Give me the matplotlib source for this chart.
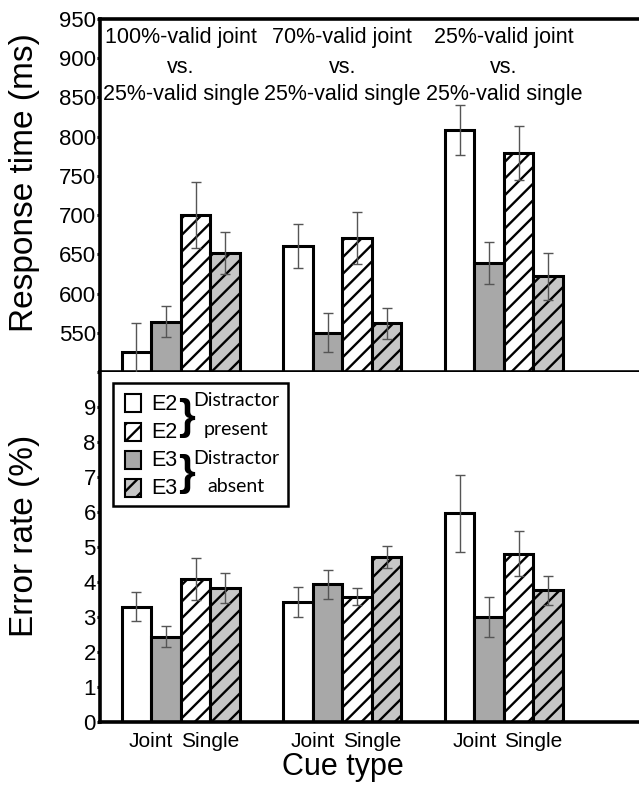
import matplotlib
matplotlib.use("Agg")
import matplotlib.pyplot as plt
from matplotlib.patches import Rectangle
import numpy as np

plt.rcParams['font.family'] = ['Liberation Sans', 'DejaVu Sans']
plt.rcParams['hatch.linewidth'] = 1.7

# ---- data ----
groups = [("100%-valid joint", "vs.", "25%-valid single"),
          ("70%-valid joint", "vs.", "25%-valid single"),
          ("25%-valid joint", "vs.", "25%-valid single")]
series = ["E2 joint", "E3 joint", "E2 single", "E3 single"]

rt_means = {
    "E2 joint":  [526, 661, 809],
    "E3 joint":  [564, 550, 639],
    "E2 single": [700, 671, 779],
    "E3 single": [652, 562, 622],
}
rt_err = {
    "E2 joint":  [36, 28, 32],
    "E3 joint":  [20, 25, 27],
    "E2 single": [42, 33, 34],
    "E3 single": [27, 20, 30],
}
er_means = {
    "E2 joint":  [3.30, 3.43, 5.96],
    "E3 joint":  [2.43, 3.93, 3.00],
    "E2 single": [4.08, 3.58, 4.81],
    "E3 single": [3.83, 4.72, 3.76],
}
er_err = {
    "E2 joint":  [0.42, 0.43, 1.10],
    "E3 joint":  [0.30, 0.42, 0.57],
    "E2 single": [0.60, 0.24, 0.65],
    "E3 single": [0.43, 0.32, 0.41],
}
cue_labels = ["Joint", "Single"]
rt_ticks = [500, 550, 600, 650, 700, 750, 800, 850, 900, 950]
er_ticks = list(range(0, 10))

# ---- styles ----
styles = {
    "E2 joint":  dict(color="white", hatch=None),
    "E3 joint":  dict(color="#a8a8a8", hatch=None),
    "E2 single": dict(color="white", hatch="//"),
    "E3 single": dict(color="#c6c6c6", hatch="//"),
}
W, H = 639, 785
fig = plt.figure(figsize=(W / 100, H / 100), dpi=100)
left = 100 / W
ax1 = fig.add_axes([left, 1 - 372 / H, 1 - left, (372 - 19) / H])
ax2 = fig.add_axes([left, 1 - 722 / H, 1 - left, (722 - 372) / H])

x = np.arange(len(groups))
w = 0.183
offsets = [-1.5 * w, -0.5 * w, 0.5 * w, 1.5 * w]


def draw(ax, means, errs):
    for s, off in zip(series, offsets):
        st = styles[s]
        ax.bar(x + off, means[s], width=w, color=st["color"], hatch=st["hatch"],
               edgecolor="black", linewidth=2.2, zorder=2)
        ax.errorbar(x + off, means[s], yerr=errs[s], fmt="none", ecolor="#555555",
                    elinewidth=1.0, capsize=3.5, capthick=1.0, zorder=3)
    ax.set_xlim(-0.50, 2.836)
    for sp in ax.spines.values():
        sp.set_linewidth(2.6)
    ax.spines["right"].set_visible(False)
    ax.tick_params(axis="y", direction="out", length=2.5, width=2.2, labelsize=16, pad=0.5)
    ax.tick_params(axis="x", length=0)


draw(ax1, rt_means, rt_err)
ax1.set_ylim(500, 950)
ax1.set_yticks(rt_ticks)
ax1.set_yticklabels([""] + [str(t) for t in rt_ticks[1:]])
ax1.set_xticks([])
# group titles, baselines at pixel rows 43, 73, 100
for xi, lines in zip(x, groups):
    for line, py in zip(lines, (43, 73, 100)):
        ax1.text(xi, 1 - (py - 19) / 353, line, transform=ax1.get_xaxis_transform(),
                 ha="center", va="baseline", fontsize=15.5)

draw(ax2, er_means, er_err)
ax2.set_ylim(0, 10)
ax2.set_yticks(er_ticks)
ax2.spines["top"].set_visible(False)
xt = np.concatenate([[xi - w, xi + w] for xi in x])
ax2.set_xticks(xt)
ax2.set_xticklabels(cue_labels * len(groups), fontsize=15)
ax2.tick_params(axis="x", pad=7)

# axis labels
fig.text(25 / W, 1 - 183 / H, "Response time (ms)", rotation=90, ha="center", va="center", fontsize=24)
fig.text(25 / W, 1 - 536 / H, "Error rate (%)", rotation=90, ha="center", va="center", fontsize=24)
fig.text(343 / W, 1 - 767 / H, "Cue type", ha="center", va="center", fontsize=22)

# ---- legend (drawn manually in pixel-based figure coords) ----
def fx(px):
    return px / W


def fy(py):
    return 1 - py / H


frame = Rectangle((fx(113), fy(506)), fx(288) - fx(113), fy(383) - fy(506), transform=fig.transFigure,
                  facecolor="white", edgecolor="black", linewidth=1.8, zorder=5)
fig.patches.append(frame)
leg_rows = [("E2 joint", "E2", 403), ("E2 single", "E2", 432),
            ("E3 joint", "E3", 460), ("E3 single", "E3", 488)]
for s, lab, yc in leg_rows:
    st = styles[s]
    r = Rectangle((fx(125), fy(yc + 9)), fx(141) - fx(125), fy(yc - 9) - fy(yc + 9),
                  transform=fig.transFigure, facecolor=st["color"], hatch=st["hatch"],
                  edgecolor="black", linewidth=1.5, zorder=6)
    fig.patches.append(r)
    fig.text(fx(164), fy(yc + 1), lab, ha="center", va="center", fontsize=15.5, zorder=7)
for yc in (418, 474):
    fig.text(fx(186), fy(yc), "}", ha="center", va="center", fontsize=31, fontweight="bold", zorder=7)
fig.text(fx(236), fy(401), "Distractor", ha="center", va="center", fontsize=14, family="Lato", zorder=7)
fig.text(fx(236), fy(430), "present", ha="center", va="center", fontsize=14, family="Lato", zorder=7)
fig.text(fx(236), fy(458), "Distractor", ha="center", va="center", fontsize=14, family="Lato", zorder=7)
fig.text(fx(236), fy(487), "absent", ha="center", va="center", fontsize=14, family="Lato", zorder=7)

fig.savefig("out.png", dpi=100)
